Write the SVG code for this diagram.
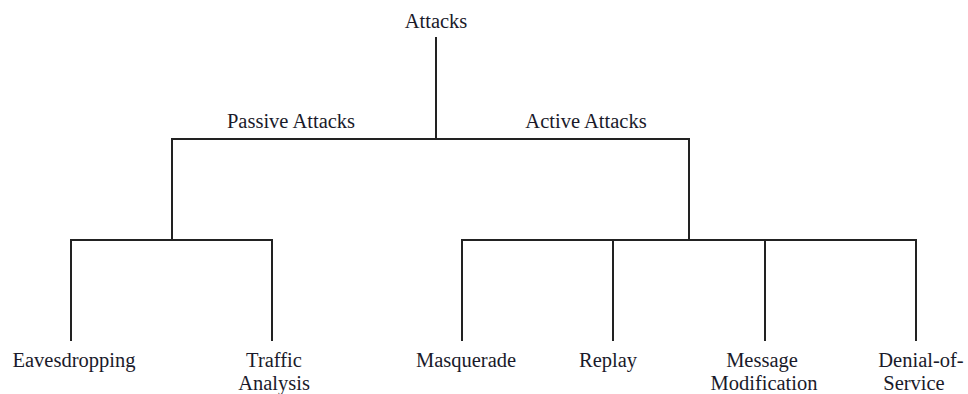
<svg xmlns="http://www.w3.org/2000/svg" width="968" height="394" viewBox="0 0 968 394">
  <style>
    .lbl { font-family: "Liberation Serif", "Times New Roman", serif; font-size: 20.5px; fill: #1a1a2a; text-anchor: middle; }
    .wire { stroke: #222; stroke-width: 2; fill: none; stroke-linecap: square; }
  </style>
  <rect width="968" height="394" fill="#fff"/>

  <!-- tree connectors -->
  <g id="connectors">
    <path class="wire" d="M436 38 V139"/>
    <path class="wire" d="M172 240 V139 H689 V240"/>
    <path class="wire" d="M71 340 V240 H272 V340"/>
    <path class="wire" d="M462 340 V240 H916 V340"/>
    <path class="wire" d="M613 240 V340"/>
    <path class="wire" d="M765 240 V340"/>
  </g>

  <g id="attacks"><text class="lbl" x="436" y="28">Attacks</text></g>
  <g id="passive"><text class="lbl" x="291" y="128">Passive Attacks</text></g>
  <g id="active"><text class="lbl" x="586" y="128">Active Attacks</text></g>
  <g id="eavesdropping"><text class="lbl" x="74" y="367">Eavesdropping</text></g>
  <g id="traffic-analysis"><text class="lbl" x="274" y="367">Traffic</text><text class="lbl" x="274" y="390">Analysis</text></g>
  <g id="masquerade"><text class="lbl" x="466" y="367">Masquerade</text></g>
  <g id="replay"><text class="lbl" x="608" y="367">Replay</text></g>
  <g id="message-modification"><text class="lbl" x="762" y="367">Message</text><text class="lbl" x="764" y="390">Modification</text></g>
  <g id="denial-of-service"><text class="lbl" x="921" y="367">Denial-of-</text><text class="lbl" x="914" y="390">Service</text></g>
</svg>
